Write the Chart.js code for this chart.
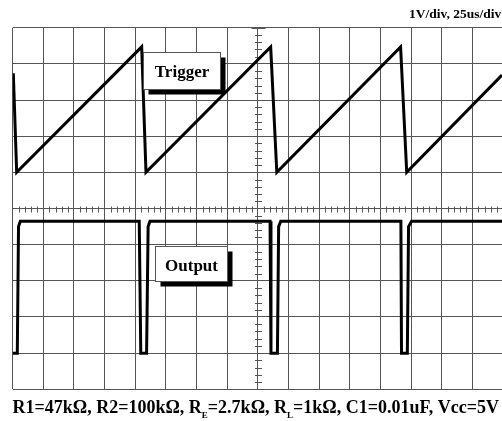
<!DOCTYPE html>
<html><head><meta charset="utf-8">
<script src="https://cdn.jsdelivr.net/npm/chart.js@4/dist/chart.umd.min.js"></script>
<style>html,body{margin:0;padding:0;background:#fff;overflow:hidden}</style>
</head><body>
<canvas id="c" width="502" height="421" style="width:502px;height:421px;display:block"></canvas>
<script>
// Grid divisions (x: 25us/div, y: 1V/div)
const xGridTicks = [0,1,2,3,4,5,6,7,8,9,10,11,12,13,14,15];
const yGridTicks = [0,1,2,3,4,5,6,7,8,9,10];

// Trigger (sawtooth) trace, in divisions
const triggerX = [0.02, 0.13, 4.21, 4.35, 8.42, 8.62, 12.66, 12.86, 15.97];
const triggerY = [8.74, 6.00, 9.47, 6.00, 9.47, 6.00, 9.47, 6.00, 8.69];

// Output (pulse) trace, in divisions
const outputX = [0, 0.15, 0.19, 0.25, 4.13, 4.18, 4.37, 4.42, 4.48, 8.40, 8.43, 8.64, 8.68, 8.75, 12.67, 12.69, 12.88, 12.92, 13.02, 15.97];
const outputY = [1, 1, 4.50, 4.65, 4.65, 1, 1, 4.50, 4.65, 4.65, 1, 1, 4.50, 4.65, 4.65, 1, 1, 4.50, 4.65, 4.65];

const scaleLabel = '1V/div, 25us/div';
const traceLabels = ['Trigger', 'Output'];
const captionParts = [
  ['R1=47kΩ, R2=100kΩ, R', false], ['E', true], ['=2.7kΩ, R', false], ['L', true],
  ['=1kΩ, C1=0.01uF, Vcc=5V', false]
];

const toPts = (xs, ys) => xs.map((v, i) => ({x: v, y: ys[i]}));

const scopeDecor = {
  id: 'scopeDecor',
  beforeDatasetsDraw(chart) {
    const {ctx, scales: {x, y}} = chart;
    ctx.save();
    ctx.strokeStyle = '#555';
    ctx.lineWidth = 1;
    const cy = Math.round(y.getPixelForValue(5)) + 0.5;
    const cx = Math.round(x.getPixelForValue(8)) + 0.5;
    ctx.beginPath();
    for (let i = 0; i <= 80; i++) {
      if (i % 5 === 0) continue;
      const px = Math.round(x.getPixelForValue(i * 0.2)) + 0.5;
      ctx.moveTo(px, cy - 3); ctx.lineTo(px, cy + 3);
    }
    for (let i = 0; i <= 50; i++) {
      if (i % 5 === 0) continue;
      const py = Math.round(y.getPixelForValue(i * 0.2)) + 0.5;
      ctx.moveTo(cx - 3.5, py); ctx.lineTo(cx + 3.5, py);
    }
    const top = Math.round(y.getPixelForValue(10)) + 0.5;
    ctx.moveTo(cx - 7, top); ctx.lineTo(cx + 7, top);
    ctx.stroke();
    ctx.restore();
  },
  afterDatasetsDraw(chart) {
    const {ctx, scales: {x, y}} = chart;
    const boxes = [
      {text: traceLabels[0], x0: 4.26, y0: 9.34, w: 77, h: 37},
      {text: traceLabels[1], x0: 4.63, y0: 3.97, w: 72, h: 35}
    ];
    ctx.save();
    boxes.forEach(b => {
      const bx = Math.round(x.getPixelForValue(b.x0)) + 0.5;
      const by = Math.round(y.getPixelForValue(b.y0)) + 0.5;
      ctx.fillStyle = '#000';
      ctx.fillRect(bx + 5, by + 5, b.w, b.h);
      ctx.fillStyle = '#fff';
      ctx.fillRect(bx, by, b.w, b.h);
      ctx.strokeStyle = '#555';
      ctx.lineWidth = 1;
      ctx.strokeRect(bx, by, b.w, b.h);
      ctx.fillStyle = '#000';
      ctx.font = 'bold 17px "Liberation Serif", "DejaVu Serif", serif';
      ctx.textAlign = 'center';
      ctx.textBaseline = 'alphabetic';
      ctx.fillText(b.text, bx + b.w / 2, by + 24);
    });
    ctx.restore();
  },
  afterDraw(chart) {
    const {ctx} = chart;
    ctx.save();
    ctx.fillStyle = '#000';
    ctx.textBaseline = 'alphabetic';
    ctx.textAlign = 'left';
    ctx.font = 'bold 13.5px "Liberation Serif", serif';
    ctx.fillText(scaleLabel, 409, 18);
    let px = 12.5;
    captionParts.forEach(([t, sub]) => {
      ctx.font = sub ? 'bold 9px "Liberation Serif", serif' : 'bold 18px "Liberation Serif", serif';
      ctx.fillText(t, px, sub ? 418 : 412.5);
      px += ctx.measureText(t).width;
    });
    ctx.restore();
  }
};

const gridCfg = {color: '#555', lineWidth: 1, drawTicks: false};

new Chart(document.getElementById('c'), {
  type: 'scatter',
  data: {
    datasets: [
      {label: 'Trigger', data: toPts(triggerX, triggerY), showLine: true, borderColor: '#000', borderWidth: 3, pointRadius: 0, tension: 0, borderJoinStyle: 'miter', fill: false},
      {label: 'Output', data: toPts(outputX, outputY), showLine: true, borderColor: '#000', borderWidth: 3, pointRadius: 0, tension: 0, borderJoinStyle: 'miter', fill: false}
    ]
  },
  options: {
    responsive: false,
    animation: false,
    devicePixelRatio: 1,
    layout: {padding: {left: 12.7, right: 0, top: 27.7, bottom: 31.7}},
    plugins: {legend: {display: false}, tooltip: {enabled: false}, title: {display: false}},
    scales: {
      x: {
        type: 'linear', min: 0, max: 15.97,
        afterBuildTicks: s => { s.ticks = xGridTicks.map(v => ({value: v})); },
        grid: gridCfg, border: {display: false}, ticks: {display: false}
      },
      y: {
        type: 'linear', min: 0, max: 10,
        afterBuildTicks: s => { s.ticks = yGridTicks.map(v => ({value: v})); },
        grid: gridCfg, border: {display: false}, ticks: {display: false}
      }
    }
  },
  plugins: [scopeDecor]
});
</script>
</body></html>
